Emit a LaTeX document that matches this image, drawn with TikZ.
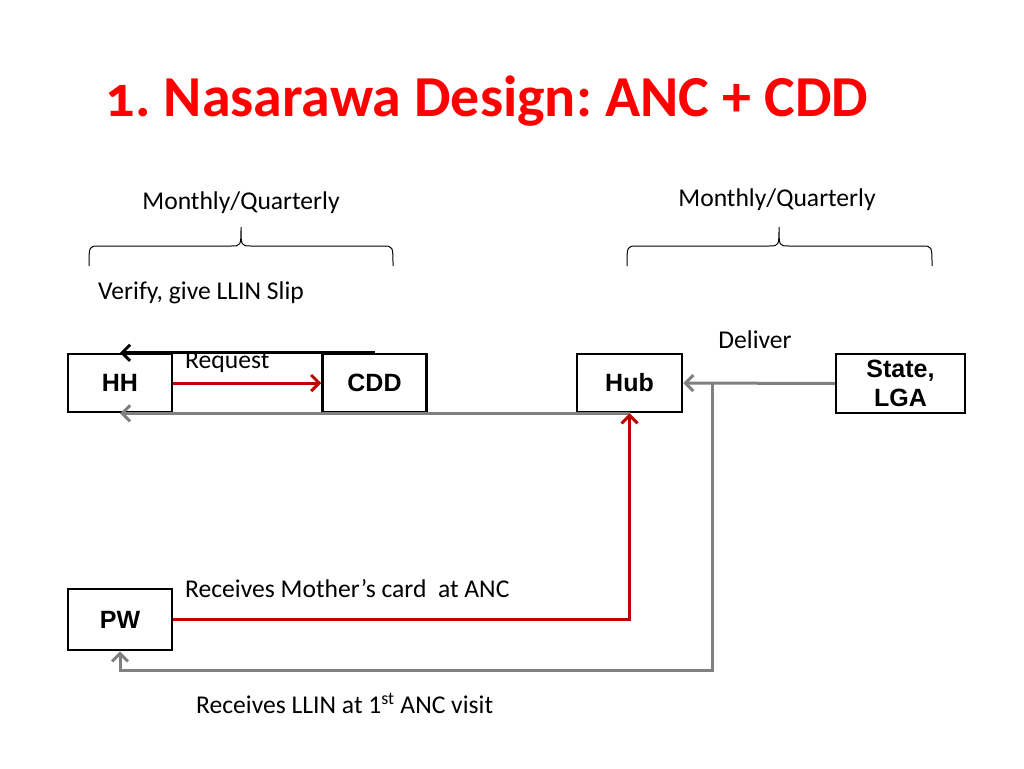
\documentclass[tikz,border=0pt]{standalone}
\usepackage{fontspec}
\setmainfont{Carlito}
\newfontfamily\boxfont{Liberation Sans}
\usepackage{tikz}
\usetikzlibrary{arrows.meta,calc,positioning}

\definecolor{flowred}{RGB}{192,0,0}
\definecolor{flowgray}{RGB}{128,128,128}
\definecolor{titlered}{RGB}{255,0,0}

\tikzset{
  actor/.style={draw,line width=2.5pt,minimum width=104pt,minimum height=58pt,
    inner sep=0pt,align=center,font=\boxfont\bfseries\fontsize{25}{29}\selectfont},
  lbl/.style={inner sep=0pt,font=\fontsize{25.6}{30}\selectfont},
  tip/.style={-{Straight Barb[length=8pt,width=16pt,line width=3pt]}},
  redflow/.style={tip,line width=3pt,draw=flowred},
  grayflow/.style={tip,line width=3pt,draw=flowgray},
  blackflow/.style={tip,line width=3pt,draw=black},
  period/.style={line width=1pt}
}

\begin{document}
\frenchspacing
\begin{tikzpicture}[x=1pt,y=-1pt]
  \useasboundingbox (0,0) rectangle (1024,768);
  % title
  \node[inner sep=0pt,text=titlered,font=\bfseries\fontsize{58}{66}\selectfont] (title) at (487,101)
    {\addfontfeatures{Numbers=OldStyle}1. Nasarawa Design: ANC + CDD};
  % braces
  \draw[period] (89,266) .. controls (89,246) .. (99,246) -- (231,246)
    .. controls (241,246) .. (241,227) .. controls (241,246) .. (251,246)
    -- (383,246) .. controls (393,246) .. (393,266);
  \draw[period] (627,266) .. controls (627,246) .. (637,246) -- (769,246)
    .. controls (779,246) .. (779,227) .. controls (779,246) .. (789,246)
    -- (922,246) .. controls (932,246) .. (932,266);
  \node[lbl] (freqleft) at (241,203) {Monthly/Quarterly};
  \node[lbl] (freqright) at (777,200) {Monthly/Quarterly};
  % actors
  \node[actor] (hh) at (120,383) {HH};
  \node[actor] (cdd) at (374.5,383) {CDD};
  \node[actor,minimum width=105pt] (hub) at (629.5,383) {Hub};
  \node[actor,minimum width=129pt,minimum height=59pt] (state) at (900.5,383.5) {State,\\LGA};
  \node[actor,minimum height=61pt] (pw) at (120,619.5) {PW};
  \coordinate (split) at (712,383);
  \coordinate (low) at (712,670);
  % flows
  \draw[blackflow] (cdd.north) -- (hh.north);
  \draw[redflow] (hh.east) -- (cdd.west);
  \draw[grayflow] (hub.south) -- (hh.south);
  \draw[grayflow] (state.west) -- (hub.east);
  \draw[redflow] (pw.east) -| (hub.south);
  \draw[grayflow] (split) -- (low) -| (pw.south);
  % labels
  \node[lbl,anchor=west] (verify) at (98,293) {Verify, give LLIN Slip};
  \node[lbl,anchor=west] (request) at (185,362) {Request};
  \node[lbl] (deliver) at (755,340) {Deliver};
  \node[lbl,anchor=west] (card) at (185,589) {Receives Mother’s card\ \ at ANC};
  \node[lbl,anchor=west] (llin) at (196,703) {Receives LLIN at 1\textsuperscript{st} ANC visit};
\end{tikzpicture}
\end{document}
